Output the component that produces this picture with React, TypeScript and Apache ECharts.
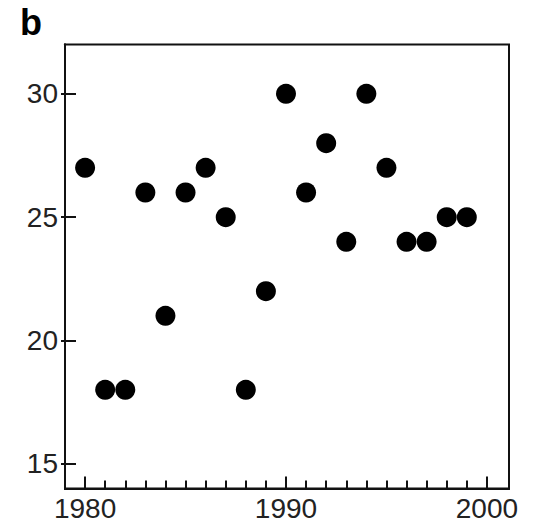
import React, { useEffect, useRef } from "react";
import * as echarts from "echarts";

const years = [1980, 1981, 1982, 1983, 1984, 1985, 1986, 1987, 1988, 1989, 1990, 1991, 1992, 1993, 1994, 1995, 1996, 1997, 1998, 1999];
const values = [27, 18, 18, 26, 21, 26, 27, 25, 18, 22, 30, 26, 28, 24, 30, 27, 24, 24, 25, 25];
const xLabelValues = [1980, 1990, 2000];
const xMinorTicks = [1980, 1981, 1982, 1983, 1984, 1985, 1986, 1987, 1988, 1989, 1990, 1991, 1992, 1993, 1994, 1995, 1996, 1997, 1998, 1999, 2000];
const yTickValues = [15, 20, 25, 30];
const panelLabel = "b";

export default function App() {
  const ref = useRef<HTMLDivElement>(null);
  useEffect(() => {
    if (!ref.current) return;
    const chart = echarts.init(ref.current, null, { renderer: "svg" });
    const font = "'Liberation Sans', Arial, Helvetica, sans-serif";
    const lineColor = "#111";
    const xBase = {
      type: "value" as const,
      min: 1979,
      max: 2001.1,
      position: "bottom" as const,
      splitLine: { show: false },
      axisLine: { show: true, lineStyle: { color: lineColor, width: 2 } },
    };
    const yBase = {
      type: "value" as const,
      min: 14,
      max: 32,
      position: "left" as const,
      splitLine: { show: false },
      axisLine: { show: true, lineStyle: { color: lineColor, width: 2 } },
    };
    chart.setOption({
      animation: false,
      backgroundColor: "#fff",
      grid: {
        left: 65,
        top: 44.5,
        right: 24,
        bottom: 37.5,
        show: true,
        borderColor: lineColor,
        borderWidth: 2,
        backgroundColor: "transparent",
      },
      graphic: [
        {
          type: "text",
          left: 20,
          top: 4,
          style: {
            text: panelLabel,
            font: `bold 36px ${font}`,
            fill: "#000",
          },
        },
      ],
      xAxis: [
        {
          ...xBase,
          axisTick: { show: true, inside: true, length: 8, customValues: xMinorTicks, lineStyle: { color: lineColor, width: 2 } },
          axisLabel: {
            show: true,
            customValues: xLabelValues,
            margin: 6,
            fontSize: 28,
            fontFamily: font,
            color: "#222",
            formatter: (v: number) => String(v),
          },
        },
        {
          ...xBase,
          axisTick: { show: true, inside: true, length: 12, customValues: xLabelValues, lineStyle: { color: lineColor, width: 2 } },
          axisLabel: { show: false },
        },
      ],
      yAxis: [
        {
          ...yBase,
          axisTick: { show: true, inside: true, length: 11, customValues: yTickValues, lineStyle: { color: lineColor, width: 2 } },
          axisLabel: {
            show: true,
            customValues: yTickValues,
            margin: 7,
            fontSize: 28,
            fontFamily: font,
            color: "#222",
            formatter: (v: number) => String(v),
          },
        },
        {
          ...yBase,
          axisTick: { show: true, inside: false, length: 4, customValues: yTickValues, lineStyle: { color: lineColor, width: 2 } },
          axisLabel: { show: false },
        },
      ],
      series: [
        {
          type: "scatter",
          xAxisIndex: 0,
          yAxisIndex: 0,
          data: years.map((y, i) => [y, values[i]]),
          symbol: "circle",
          symbolSize: 20,
          itemStyle: { color: "#000", opacity: 1 },
        },
      ],
    });
    return () => chart.dispose();
  }, []);
  return <div ref={ref} style={{ width: 533, height: 526, position: "absolute", left: 0, top: 0 }} />;
}
